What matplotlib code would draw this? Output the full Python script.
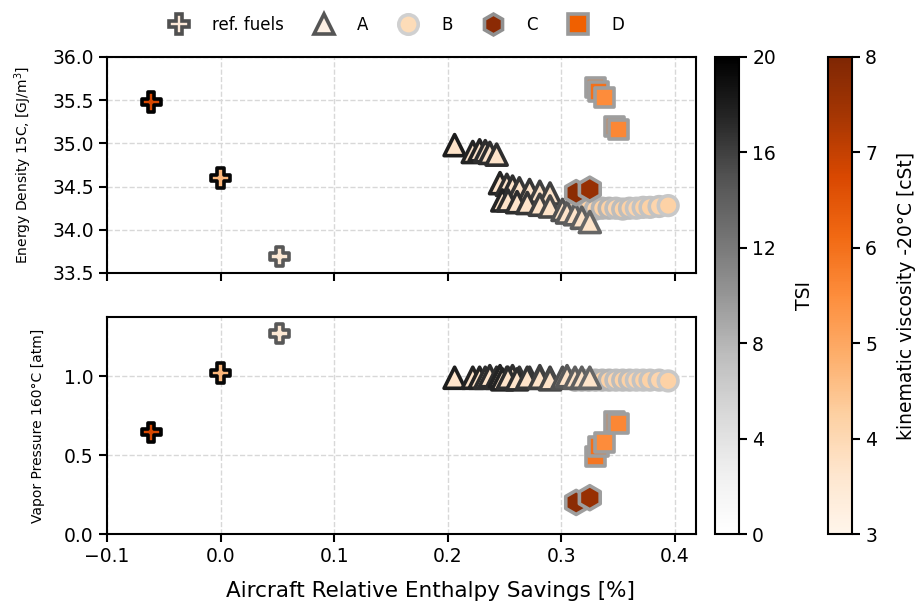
import numpy as np
import matplotlib
matplotlib.use("Agg")
import matplotlib.pyplot as plt
from matplotlib.colors import Normalize
from matplotlib.lines import Line2D
import matplotlib.cm as cm

# reference fuels
ref_x = [-0.061, 0.0, 0.052]
ref_ed = [35.48, 34.60, 33.69]
ref_vp = [0.645, 1.02, 1.27]
ref_tsi = [20, 19.5, 14.5]
ref_visc = [6.75, 4.7, 3.5]

# group A (triangles)
a_x = [0.206, 0.222, 0.228, 0.233, 0.237, 0.243, 0.246, 0.252, 0.257, 0.263, 0.272, 0.281, 0.290,
       0.248, 0.253, 0.261, 0.270, 0.281, 0.290, 0.301, 0.305, 0.312, 0.318, 0.325]
a_ed = [34.98, 34.90, 34.92, 34.91, 34.89, 34.87, 34.54, 34.52, 34.50, 34.48, 34.46, 34.44, 34.42,
        34.34, 34.34, 34.32, 34.31, 34.29, 34.27, 34.23, 34.20, 34.18, 34.14, 34.09]
a_vp = [0.99, 0.99, 0.99, 0.99, 1.00, 0.99, 1.00, 0.99, 1.00, 0.99, 0.99, 1.00, 0.99,
        0.98, 0.99, 0.98, 0.99, 0.99, 0.98, 0.99, 1.00, 0.99, 0.99, 0.99]
a_tsi = [18, 17.5, 17.5, 17, 17, 17, 17.5, 17, 17, 16.5, 16.5, 16, 16,
         17.5, 17, 17, 16.5, 16, 15.5, 15, 14.5, 14, 14, 13.5]
a_visc = [3.7] * 24

# group B (circles)
b_x = [0.312, 0.318, 0.324, 0.330, 0.336, 0.342, 0.348, 0.354, 0.360, 0.366, 0.372, 0.378, 0.386, 0.394]
b_ed = [34.22, 34.23, 34.24, 34.24, 34.25, 34.25, 34.25, 34.24, 34.25, 34.25, 34.26, 34.26, 34.27, 34.28]
b_vp = [0.975, 0.975, 0.975, 0.975, 0.975, 0.975, 0.975, 0.975, 0.975, 0.975, 0.975, 0.975, 0.975, 0.97]
b_tsi = [9, 8.5, 8.5, 8, 8, 8, 7.5, 7.5, 7.5, 7, 7, 7, 7, 6.5]
b_visc = [4.1, 4.1, 4.2, 4.1, 4.2, 4.2, 4.1, 4.2, 4.2, 4.1, 4.2, 4.2, 4.1, 4.2]

# group C (hexagons)
c_x = [0.313, 0.325]
c_ed = [34.43, 34.47]
c_vp = [0.20, 0.23]
c_tsi = [9.5, 9.5]
c_visc = [7.8, 7.6]

# group D (squares)
d_x = [0.330, 0.333, 0.338, 0.347, 0.350]
d_ed = [35.65, 35.60, 35.53, 35.20, 35.16]
d_vp = [0.49, 0.553, 0.58, 0.71, 0.70]
d_tsi = [9.5, 9.5, 9.5, 9.5, 9.5]
d_visc = [5.9, 6.0, 5.5, 5.9, 5.6]

tsi_norm = Normalize(0, 20)
visc_norm = Normalize(3, 8)
greys = plt.get_cmap("Greys")
oranges = plt.get_cmap("Oranges")

fig = plt.figure(figsize=(9.17, 6.08), dpi=100)
ax1 = fig.add_axes([107 / 917, 1 - 273 / 608, 589 / 917, 216 / 608])
ax2 = fig.add_axes([107 / 917, 1 - 534 / 608, 589 / 917, 217 / 608], sharex=ax1)
cax1 = fig.add_axes([715 / 917, 1 - 534 / 608, 24 / 917, 477 / 608])
cax2 = fig.add_axes([828 / 917, 1 - 534 / 608, 24 / 917, 477 / 608])

# x, energy density, vapor pressure, tsi, viscosity, marker, size, zorder
groups = [
    (ref_x, ref_ed, ref_vp, ref_tsi, ref_visc, "P", 190, 3),
    (b_x, b_ed, b_vp, b_tsi, b_visc, "o", 200, 2),
    (a_x, a_ed, a_vp, a_tsi, a_visc, "^", 230, 3),
    (c_x, c_ed, c_vp, c_tsi, c_visc, "h", 300, 4),
    (d_x, d_ed, d_vp, d_tsi, d_visc, "s", 190, 4),
]

for ax, col in [(ax1, 1), (ax2, 2)]:
    for g in groups:
        face = oranges(visc_norm(np.array(g[4])))
        edge = greys(tsi_norm(np.array(g[3])))
        ax.scatter(g[0], g[col], marker=g[5], s=g[6], facecolors=face,
                   edgecolors=edge, linewidths=2.6, zorder=g[7])
    ax.grid(True, linestyle="--", color="#d8d8d8", linewidth=1)
    ax.set_axisbelow(True)
    for sp in ax.spines.values():
        sp.set_linewidth(1.5)
    ax.tick_params(labelsize=13.5, width=1.5, length=6)

ax1.set_xlim(-0.1, 0.4185)
ax1.set_ylim(33.5, 36.0)
ax1.set_yticks([33.5, 34.0, 34.5, 35.0, 35.5, 36.0])
ax1.tick_params(labelbottom=False)
ax2.set_ylim(0, 1.375)
ax2.set_yticks([0.0, 0.5, 1.0])
ax2.set_xticks([-0.1, 0.0, 0.1, 0.2, 0.3, 0.4])

ax1.set_ylabel("Energy Density 15C, [GJ/m$^3$]", fontsize=10, labelpad=13)
ax2.set_ylabel("Vapor Pressure 160°C [atm]", fontsize=10, labelpad=14)
ax2.set_xlabel("Aircraft Relative Enthalpy Savings [%]", fontsize=15.5)
ax2.xaxis.set_label_coords(0.55, -0.215)

cb1 = fig.colorbar(cm.ScalarMappable(norm=tsi_norm, cmap=greys), cax=cax1)
cb1.set_ticks([0, 4, 8, 12, 16, 20])
cb1.set_label("TSI", fontsize=13.5, labelpad=14)
cb2 = fig.colorbar(cm.ScalarMappable(norm=visc_norm, cmap=oranges), cax=cax2)
cb2.set_ticks([3, 4, 5, 6, 7, 8])
cb2.set_label("kinematic viscosity -20°C [cSt]", fontsize=13.5, labelpad=14)
for cb in (cb1, cb2):
    cb.ax.tick_params(labelsize=13.5, width=1.5, length=6)
    cb.outline.set_linewidth(1.5)

handles = [
    Line2D([], [], ls="none", marker="P", ms=14, mfc="#fde9d8", mec="#505050", mew=2.6),
    Line2D([], [], ls="none", marker="^", ms=14, mfc="#fdf0e4", mec="#555555", mew=2.6),
    Line2D([], [], ls="none", marker="o", ms=14, mfc="#fddcb8", mec="#d0d0d0", mew=2.6),
    Line2D([], [], ls="none", marker="h", ms=15, mfc="#8b2a04", mec="#909090", mew=2.6),
    Line2D([], [], ls="none", marker="s", ms=14, mfc="#f06000", mec="#999999", mew=2.6),
]
fig.legend(handles, ["ref. fuels", "A", "B", "C", "D"], loc="center",
           bbox_to_anchor=(393 / 917, 1 - 25 / 608), ncol=5, frameon=False,
           fontsize=12, columnspacing=1.4, handletextpad=1.0)

fig.savefig("out.png", dpi=100)
